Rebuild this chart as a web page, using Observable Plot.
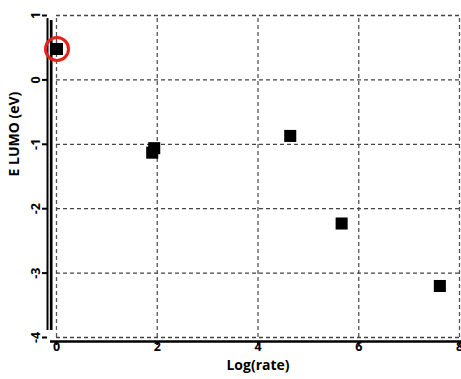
<!DOCTYPE html>
<html>
<head>
<meta charset="utf-8">
<script src="https://cdn.jsdelivr.net/npm/d3@7"></script>
<script src="https://cdn.jsdelivr.net/npm/@observablehq/plot@0.6"></script>
<style>
  html, body { margin: 0; padding: 0; background: #fff; }
  #chart svg { display: block; }
</style>
</head>
<body>
<div id="chart"></div>
<script>
// Data
const logRate = [0.01, 1.90, 1.94, 4.64, 5.66, 7.61];
const eLumo   = [0.48, -1.13, -1.06, -0.87, -2.23, -3.20];
const highlighted = [0]; // index of the circled point

const xTicks = [0, 2, 4, 6, 8];
const xTickLabels = ["0", "2", "4", "6", "8"];
const yTicks = [1, 0, -1, -2, -3, -4];
const yTickLabels = ["1", "0", "-1", "-2", "-3", "-4"];

const xLabel = "Log(rate)";
const yLabel = "E LUMO (eV)";

const points = logRate.map((x, i) => ({x, y: eLumo[i]}));
const hi = highlighted.map(i => points[i]);
const xt = xTicks.map((v, i) => ({v, t: xTickLabels[i]}));
const yt = yTicks.map((v, i) => ({v, t: yTickLabels[i]}));

const chart = Plot.plot({
  width: 461,
  height: 379,
  marginLeft: 56,
  marginRight: 2,
  marginTop: 15,
  marginBottom: 42,
  style: {fontFamily: "'Open Sans', sans-serif", fontWeight: "bold", fontSize: "12px", color: "#000", background: "#fff"},
  x: {type: "linear", domain: [0, 8], axis: null},
  y: {type: "linear", domain: [-4, 1], axis: null},
  marks: [
    // dashed grid
    Plot.ruleX(xTicks, {x: d => d, y1: -4, y2: 1, stroke: "#555", strokeWidth: 1.3, strokeDasharray: "4,3"}),
    Plot.ruleY(yTicks, {y: d => d, x1: 0, x2: 8, stroke: "#444", strokeWidth: 1.3, strokeDasharray: "4,3"}),
    // double left axis line
    Plot.ruleX([0], {x: d => d, y1: -4, y2: 1, dx: -9, strokeWidth: 2, stroke: "#000", insetTop: -7, insetBottom: -3}),
    Plot.ruleX([0], {x: d => d, y1: -4, y2: 1, dx: -5.3, strokeWidth: 2.7, stroke: "#000", insetTop: -7, insetBottom: -5}),
    // bottom axis line
    Plot.ruleY([-4], {y: d => d, x1: 0, x2: 8, dy: 4, strokeWidth: 2.7, stroke: "#000", insetLeft: -6, insetRight: -2}),
    // y tick marks
    Plot.axisY({ticks: yTicks, tickSize: 5, dx: -9, tickFormat: () => "", stroke: "#000", strokeWidth: 2, label: null}),
    // x tick marks
    Plot.axisX({ticks: xTicks, tickSize: 3, dy: 5, tickFormat: () => "", stroke: "#000", strokeWidth: 2, label: null}),
    // y tick labels (rotated)
    Plot.text(yt, {y: "v", text: "t", frameAnchor: "left", dx: -21, rotate: -90, textAnchor: "middle", fontSize: 12.5, fontWeight: "bold", fill: "#000"}),
    // x tick labels
    Plot.text(xt, {x: "v", text: "t", frameAnchor: "bottom", dy: 13, fontSize: 12.5, fontWeight: "bold", fill: "#000"}),
    // axis titles
    Plot.text([xLabel], {frameAnchor: "bottom", dy: 32, fontSize: 14, fontWeight: "bold", fill: "#000", text: d => d}),
    Plot.text([yLabel], {frameAnchor: "left", dx: -42, rotate: -90, fontSize: 14, fontWeight: "bold", fill: "#000", text: d => d}),
    // data squares
    Plot.dot(points, {x: "x", y: "y", symbol: "square", r: 6.8, fill: "#000", stroke: null}),
    // highlight circle
    Plot.dot(hi, {x: "x", y: "y", r: 11.5, fill: "none", stroke: "#e8201a", strokeWidth: 3})
  ]
});

document.getElementById("chart").appendChild(chart);
</script>
</body>
</html>
